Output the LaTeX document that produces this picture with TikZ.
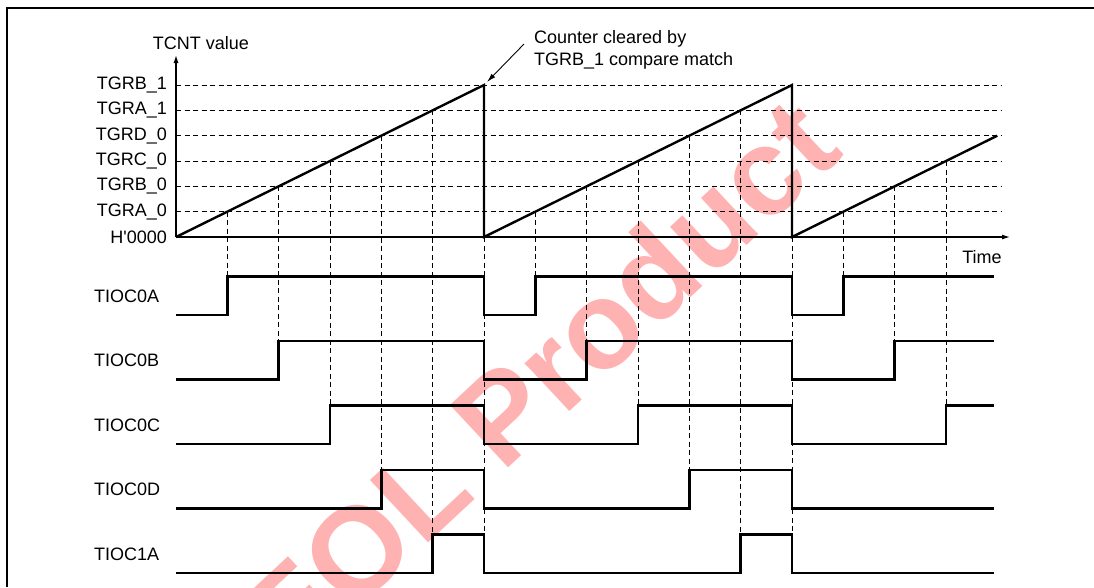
\documentclass[tikz,border=0pt]{standalone}
\usepackage{fontspec}
\setmainfont{Liberation Sans}
\usetikzlibrary{arrows.meta}

\begin{document}
\begin{tikzpicture}[
  x=1pt, y=-1pt,
  font=\fontsize{18}{22}\selectfont,
  lbl/.style={inner sep=0pt},
  wm/.style={inner sep=0pt, text=red!30, font=\fontsize{124}{124}\selectfont\bfseries, rotate=43},
  lvl/.style={line width=0.9pt, dash pattern=on 5pt off 3.5pt},
  axis/.style={line width=1.2pt, -{Latex[length=8pt,width=5pt]}},
  ramp/.style={line width=2.4pt},
  wave/.style={line width=2.4pt},
  arr/.style={-{Latex[length=9pt,width=5pt]}, line width=0.9pt}
]
  \useasboundingbox (0,0) rectangle (1094,587);
  \clip (0,0) rectangle (1094,587);
  \node[wm] (eol) at (538,380) {EOL Product};
  \draw[line width=2.2pt] (7,587) -- (7,8) -- (1094,8);

  \foreach \k/\t in {0/H\textquotesingle0000,1/TGRA\_0,2/TGRB\_0,3/TGRC\_0,4/TGRD\_0,5/TGRA\_1,6/TGRB\_1}
    \node[lbl, anchor=east] (lv\k) at (167,237-25.33*\k) {\t};
  \foreach \k in {1,...,6}
    \draw[lvl] (176,237-25.33*\k) -- (1002,237-25.33*\k);
  \foreach \p/\n in {176/5,484/5,792/3}
    \foreach \k in {1,...,\n}
      \draw[lvl] (\p+51.33*\k,237-25.33*\k) -- (\p+51.33*\k,212.5+64.5*\k);
  \foreach \p in {484,792}
    \draw[lvl] (\p,237) -- (\p,534);

  \coordinate (o) at (176,237);
  \coordinate (pk1) at (484,85);
  \coordinate (pk2) at (792,85);
  \coordinate (clr) at (487,82);
  \draw[axis] (o) -- (176,55);
  \draw[axis] (o) -- (1010,237);
  \node[lbl] (tcnt) at (201,43) {TCNT value};
  \node[lbl] (time) at (982,257) {Time};
  \draw[ramp] (o) -- (pk1) -- (484,237) -- (pk2) -- (792,237) -- (997.3,135.7);

  \node[lbl, align=left, anchor=west] (note) at (534,50) {Counter cleared by\\TGRB\_1 compare match};
  \draw[arr] ([xshift=-10pt,yshift=6pt]note.west) -- (clr);

  \foreach \i/\nm in {0/TIOC0A,1/TIOC0B,2/TIOC0C,3/TIOC0D,4/TIOC1A} {
    \pgfmathsetmacro\lo{315+64.5*\i}
    \pgfmathsetmacro\hi{\lo-38.5}
    \pgfmathsetmacro\rs{51.33*(\i+1)}
    \node[lbl, anchor=west] (\nm) at (94,\lo-19) {\nm};
    \ifnum\i<3
      \draw[wave] (176,\lo) -| (176+\rs,\hi) -| (484,\lo) -| (484+\rs,\hi) -| (792,\lo) -| (792+\rs,\hi) -- (994,\hi);
    \else
      \draw[wave] (176,\lo) -| (176+\rs,\hi) -| (484,\lo) -| (484+\rs,\hi) -| (792,\lo) -- (994,\lo);
    \fi
  }
\end{tikzpicture}
\end{document}
